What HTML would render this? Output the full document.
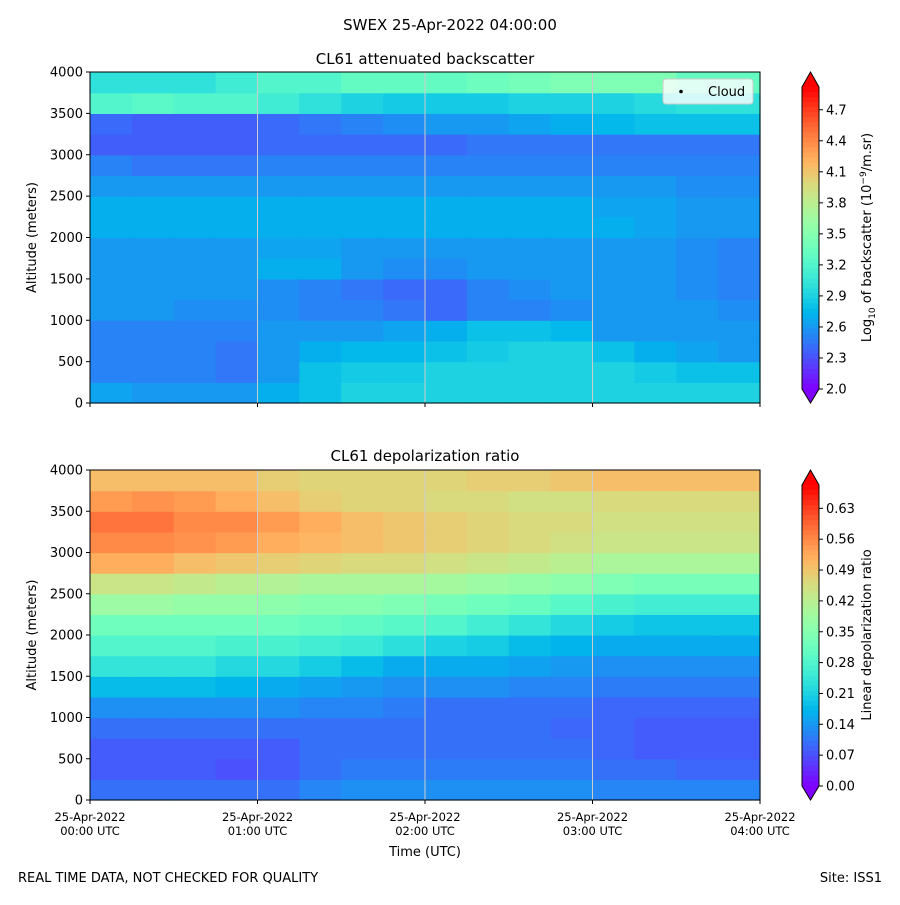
<!DOCTYPE html>
<html><head><meta charset="utf-8">
<style>
body{margin:0;background:#fff;font-family:"Liberation Sans","DejaVu Sans",sans-serif;}
svg text{font-family:"DejaVu Sans","Liberation Sans",sans-serif;fill:#000;}
</style></head>
<body>
<svg id="fig" width="900" height="900" xmlns="http://www.w3.org/2000/svg">
<rect width="900" height="900" fill="#fff"/>
<text x="450" y="30" font-size="15" text-anchor="middle">SWEX 25-Apr-2022 04:00:00</text>
<text x="425" y="64" font-size="15" text-anchor="middle">CL61 attenuated backscatter</text>
<text x="425" y="461" font-size="15" text-anchor="middle">CL61 depolarization ratio</text>
<g id="p1"></g>
<g id="p2"></g>
<text x="425" y="856" font-size="13" text-anchor="middle">Time (UTC)</text>
<text x="18" y="882" font-size="13">REAL TIME DATA, NOT CHECKED FOR QUALITY</text>
<text x="882" y="882" font-size="13" text-anchor="end">Site: ISS1</text>
</svg>
<script>
// altitude bins (m, bottom edges), 16 time bins of 15 min
const altBins=[0,250,500,750,1000,1250,1500,1750,2000,2250,2500,2750,3000,3250,3500,3750];
const timeBins=[0,0.25,0.5,0.75,1,1.25,1.5,1.75,2,2.25,2.5,2.75,3,3.25,3.5,3.75];
const xTickLabels=["25-Apr-2022\n00:00 UTC","25-Apr-2022\n01:00 UTC","25-Apr-2022\n02:00 UTC","25-Apr-2022\n03:00 UTC","25-Apr-2022\n04:00 UTC"];
const yTicks=[0,500,1000,1500,2000,2500,3000,3500,4000];
const bsTicks=[2.0,2.3,2.6,2.9,3.2,3.5,3.8,4.1,4.4,4.7];
const dpTicks=[0.00,0.07,0.14,0.21,0.28,0.35,0.42,0.49,0.56,0.63];
// log10 backscatter, rows bottom->top
const backscatter=[
[2.65,2.6,2.6,2.6,2.7,2.8,2.9,2.9,2.9,2.9,2.9,2.9,2.9,2.9,2.9,2.9],
[2.5,2.5,2.5,2.45,2.6,2.8,2.85,2.85,2.9,2.9,2.9,2.9,2.9,2.85,2.8,2.8],
[2.5,2.5,2.5,2.45,2.6,2.7,2.75,2.75,2.8,2.85,2.9,2.9,2.8,2.7,2.65,2.6],
[2.5,2.5,2.5,2.5,2.6,2.6,2.6,2.65,2.7,2.8,2.8,2.75,2.6,2.6,2.6,2.6],
[2.6,2.6,2.55,2.55,2.55,2.5,2.5,2.45,2.4,2.5,2.5,2.55,2.6,2.6,2.6,2.55],
[2.6,2.6,2.6,2.6,2.55,2.5,2.45,2.4,2.4,2.5,2.55,2.6,2.6,2.6,2.55,2.5],
[2.6,2.6,2.6,2.6,2.7,2.7,2.6,2.55,2.55,2.6,2.6,2.6,2.6,2.6,2.55,2.5],
[2.6,2.6,2.6,2.6,2.65,2.65,2.6,2.6,2.6,2.6,2.6,2.6,2.6,2.6,2.55,2.5],
[2.7,2.7,2.7,2.7,2.7,2.7,2.7,2.7,2.7,2.7,2.7,2.7,2.7,2.65,2.6,2.6],
[2.7,2.7,2.7,2.7,2.7,2.7,2.7,2.7,2.7,2.7,2.7,2.7,2.65,2.65,2.6,2.6],
[2.6,2.6,2.6,2.6,2.6,2.6,2.6,2.6,2.6,2.6,2.6,2.6,2.6,2.6,2.55,2.55],
[2.5,2.45,2.45,2.45,2.5,2.5,2.5,2.5,2.5,2.5,2.5,2.5,2.5,2.5,2.5,2.5],
[2.35,2.35,2.35,2.35,2.4,2.4,2.4,2.4,2.4,2.45,2.45,2.45,2.45,2.45,2.45,2.45],
[2.4,2.35,2.35,2.35,2.4,2.45,2.5,2.55,2.6,2.6,2.65,2.7,2.75,2.8,2.8,2.8],
[3.2,3.25,3.2,3.2,3.1,3.0,2.9,2.85,2.85,2.85,2.9,2.9,2.9,2.95,3.0,3.0],
[3.0,3.0,3.0,3.1,3.2,3.2,3.3,3.3,3.3,3.35,3.4,3.45,3.45,3.45,3.3,3.3]];
// linear depolarization ratio, rows bottom->top
const depol=[
[0.10,0.10,0.10,0.10,0.10,0.12,0.13,0.13,0.13,0.13,0.13,0.13,0.12,0.12,0.12,0.12],
[0.08,0.08,0.08,0.07,0.08,0.10,0.11,0.11,0.11,0.11,0.11,0.11,0.10,0.10,0.09,0.09],
[0.08,0.08,0.08,0.08,0.08,0.10,0.10,0.10,0.10,0.10,0.10,0.10,0.09,0.08,0.08,0.08],
[0.10,0.10,0.10,0.10,0.10,0.10,0.10,0.10,0.10,0.10,0.10,0.09,0.09,0.08,0.08,0.08],
[0.13,0.13,0.13,0.13,0.13,0.12,0.12,0.11,0.10,0.10,0.10,0.10,0.09,0.09,0.09,0.09],
[0.18,0.18,0.18,0.17,0.16,0.15,0.14,0.13,0.13,0.13,0.12,0.12,0.11,0.11,0.11,0.11],
[0.24,0.24,0.24,0.22,0.22,0.20,0.18,0.16,0.16,0.16,0.15,0.14,0.13,0.13,0.13,0.13],
[0.28,0.28,0.28,0.27,0.27,0.26,0.25,0.23,0.21,0.20,0.18,0.17,0.16,0.16,0.16,0.16],
[0.32,0.32,0.32,0.32,0.32,0.31,0.30,0.29,0.28,0.26,0.24,0.22,0.20,0.19,0.19,0.19],
[0.38,0.38,0.37,0.37,0.36,0.35,0.35,0.34,0.33,0.32,0.31,0.29,0.27,0.26,0.26,0.26],
[0.44,0.44,0.43,0.42,0.41,0.40,0.40,0.40,0.39,0.38,0.37,0.36,0.34,0.33,0.33,0.33],
[0.52,0.52,0.50,0.49,0.48,0.47,0.46,0.46,0.45,0.44,0.43,0.42,0.40,0.40,0.40,0.40],
[0.56,0.56,0.55,0.54,0.52,0.51,0.50,0.49,0.48,0.47,0.46,0.45,0.44,0.44,0.44,0.44],
[0.58,0.58,0.56,0.56,0.54,0.52,0.50,0.49,0.48,0.47,0.46,0.46,0.45,0.45,0.45,0.45],
[0.54,0.55,0.54,0.52,0.50,0.48,0.47,0.47,0.46,0.46,0.45,0.45,0.46,0.46,0.46,0.46],
[0.50,0.50,0.50,0.50,0.48,0.47,0.47,0.47,0.47,0.48,0.48,0.49,0.50,0.50,0.50,0.50]];

const NS="http://www.w3.org/2000/svg";
function mk(tag,attrs,parent){const e=document.createElementNS(NS,tag);for(const k in attrs)e.setAttribute(k,attrs[k]);parent.appendChild(e);return e;}
function rainbow(t){t=Math.max(0,Math.min(1,t));
 const r=Math.min(1,Math.abs(2*t-0.5)),g=Math.sin(Math.PI*t),b=Math.cos(Math.PI*t/2);
 return `rgb(${Math.round(r*255)},${Math.round(g*255)},${Math.round(b*255)})`;}
const X0=90,X1=760;
const xs=h=>X0+h/4*(X1-X0);

function panel(g,top,bot,grid,vmin,vmax,ticks,fmt,cbLabel,showX,cbTop){
 const ys=a=>bot-a/4000*(bot-top);
 mk('rect',{x:X0,y:top,width:X1-X0,height:bot-top,fill:'#fff'},g);
 for(let i=0;i<altBins.length;i++){for(let j=0;j<timeBins.length;j++){
  const r=mk('rect',{x:xs(timeBins[j]),y:ys(altBins[i]+250),width:xs(0.25)-X0+0.6,height:ys(0)-ys(250)+0.6,fill:rainbow((grid[i][j]-vmin)/(vmax-vmin))},g);
  
  
 }}
 for(let h=1;h<4;h++)mk('line',{x1:xs(h),x2:xs(h),y1:top,y2:bot,stroke:'#cccccc','stroke-width':1},g);
 mk('rect',{x:X0,y:top,width:X1-X0,height:bot-top,fill:'none',stroke:'#000','stroke-width':1},g);
 yTicks.forEach(v=>{mk('line',{x1:X0-4,x2:X0,y1:ys(v),y2:ys(v),stroke:'#000'},g);
  const t=mk('text',{x:X0-7,y:ys(v)+4.5,'font-size':13,'text-anchor':'end'},g);t.textContent=v;
  });
 const yl=mk('text',{x:0,y:0,'font-size':13,'text-anchor':'middle',transform:`translate(36,${(top+bot)/2}) rotate(-90)`},g);yl.textContent='Altitude (meters)';
 
 for(let h=0;h<=4;h++){mk('line',{x1:xs(h),x2:xs(h),y1:bot,y2:bot+4,stroke:'#000'},g);
  if(showX){const parts=xTickLabels[h].split('\n');
   parts.forEach((p,k)=>{const t=mk('text',{x:xs(h),y:bot+21+k*14,'font-size':11.5,'text-anchor':'middle'},g);t.textContent=p;
   });}}
 // colorbar
 const cx=802,cw=17,cb=bot-14,ct=cbTop;
 const cy=v=>cb-(v-vmin)/(vmax-vmin)*(cb-ct);
 const N=60;
 for(let k=0;k<N;k++){mk('rect',{x:cx,y:ct+(cb-ct)*k/N,width:cw,height:(cb-ct)/N+0.5,fill:rainbow(1-(k+0.5)/N)},g);}
 mk('polygon',{points:`${cx},${ct} ${cx+cw/2},${top} ${cx+cw},${ct}`,fill:rainbow(1)},g);
 mk('polygon',{points:`${cx},${cb} ${cx+cw/2},${bot} ${cx+cw},${cb}`,fill:rainbow(0)},g);
 mk('polygon',{points:`${cx},${ct} ${cx+cw/2},${top} ${cx+cw},${ct} ${cx+cw},${cb} ${cx+cw/2},${bot} ${cx},${cb}`,fill:'none',stroke:'#000','stroke-width':1},g);
 ticks.forEach(v=>{mk('line',{x1:cx+cw,x2:cx+cw+4,y1:cy(v),y2:cy(v),stroke:'#000'},g);
  const t=mk('text',{x:cx+cw+7,y:cy(v)+4.5,'font-size':13},g);t.textContent=fmt(v);
  });
 const cl=mk('text',{x:0,y:0,'font-size':13,'text-anchor':'middle',transform:`translate(871,${(top+bot)/2}) rotate(-90)`},g);
 cl.innerHTML=cbLabel;
 
}
panel(document.getElementById('p1'),72,403,backscatter,2.0,4.92,bsTicks,v=>v.toFixed(1),'Log<tspan font-size="9" dy="4">10</tspan><tspan dy="-4"> of backscatter (10</tspan><tspan font-size="9" dy="-5">−9</tspan><tspan dy="5">/m.sr)</tspan>',false,87);
panel(document.getElementById('p2'),470,800,depol,0,0.683,dpTicks,v=>v.toFixed(2),'Linear depolarization ratio',true,485);
// legend
const g1=document.getElementById('p1');
const lg=mk('g',{},g1);
mk('rect',{x:663,y:79,width:90,height:25,rx:3,fill:'#fff','fill-opacity':0.8,stroke:'#ccc'},lg);
mk('circle',{cx:681,cy:91.5,r:1.8,fill:'#000'},lg);
const lt=mk('text',{x:708,y:96,'font-size':13},lg);lt.textContent='Cloud';
</script>
</body></html>
